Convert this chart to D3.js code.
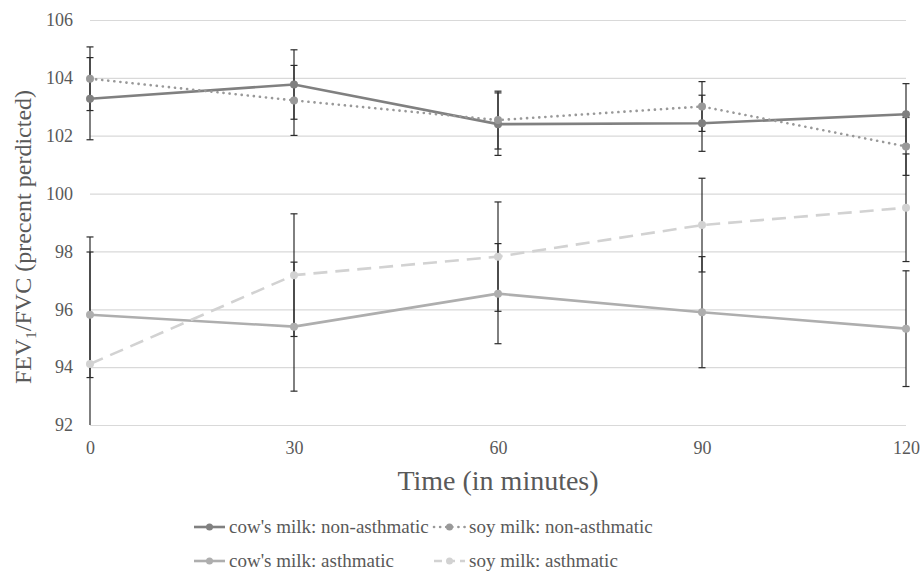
<!DOCTYPE html>
<html>
<head>
<meta charset="utf-8">
<script src="https://cdn.jsdelivr.net/npm/d3@7"></script>
<style>
  body { margin: 0; background: #fff; }
  text { font-family: "Liberation Serif", "Times New Roman", serif; fill: #595959; }
</style>
</head>
<body>
<div class="chart"></div>
<script>
// data
var times = [0, 30, 60, 90, 120];
var cow_non = [103.28, 103.77, 102.40, 102.43, 102.74];
var cow_non_err = [1.42, 1.20, 1.08, 0.97, 1.06];
var soy_non = [103.97, 103.22, 102.54, 103.01, 101.63];
var soy_non_err = [1.10, 1.21, 1.00, 0.86, 1.00];
var cow_ast = [95.81, 95.40, 96.54, 95.90, 95.33];
var cow_ast_err = [2.17, 2.23, 1.73, 1.92, 2.00];
var soy_ast = [94.11, 97.18, 97.82, 98.91, 99.51];
var soy_ast_err = [4.39, 2.12, 1.89, 1.62, 1.86];
var y_ticks = [92, 94, 96, 98, 100, 102, 104, 106];
var series_names = ["cow's milk: non-asthmatic", "soy milk: non-asthmatic",
                    "cow's milk: asthmatic", "soy milk: asthmatic"];

var chart_width = 922, chart_height = 572,
    plot_left = 90, plot_right = 906, plot_top = 20, plot_bottom = 425;

var series = [
  { name: series_names[0], values: cow_non, err: cow_non_err, color: "#808080", dash: null },
  { name: series_names[1], values: soy_non, err: soy_non_err, color: "#999999", dash: "0.1,6" },
  { name: series_names[2], values: cow_ast, err: cow_ast_err, color: "#aeaeae", dash: null },
  { name: series_names[3], values: soy_ast, err: soy_ast_err, color: "#d2d2d2", dash: "14,8" }
];

var x = d3.scalePoint().domain(times).range([plot_left, plot_right]);
var y = d3.scaleLinear().domain([92, 106]).range([plot_bottom, plot_top]);

var svg = d3.select(".chart").append("svg")
    .attr("width", chart_width)
    .attr("height", chart_height);

svg.append("clipPath").attr("id", "plot")
  .append("rect")
    .attr("x", plot_left - 10).attr("y", plot_top)
    .attr("width", plot_right - plot_left + 20).attr("height", plot_bottom - plot_top);

// gridlines + y labels
var yAxis = d3.axisLeft(y).tickValues(y_ticks).tickSize(-(plot_right - plot_left)).tickPadding(17);
var gy = svg.append("g").attr("transform", "translate(" + plot_left + ",0)").call(yAxis);
gy.select(".domain").remove();
gy.selectAll(".tick line").attr("stroke", "#d9d9d9").attr("stroke-width", 1.2);
gy.selectAll(".tick text").style("font-size", "18px").attr("fill", "#595959");

// x labels
var xAxis = d3.axisBottom(x).tickSize(0).tickPadding(16);
var gx = svg.append("g").attr("transform", "translate(0," + plot_bottom + ")").call(xAxis);
gx.select(".domain").remove();
gx.selectAll(".tick text").style("font-size", "18px").attr("fill", "#595959");

// error bars
var errs = svg.append("g").attr("clip-path", "url(#plot)");
series.forEach(function (s) {
  times.forEach(function (t, i) {
    var cx = x(t), hi = y(s.values[i] + s.err[i]), lo = y(s.values[i] - s.err[i]);
    errs.append("line").attr("x1", cx).attr("x2", cx).attr("y1", hi).attr("y2", lo)
      .attr("stroke", "#2b2b2b").attr("stroke-width", 1.2);
    [hi, lo].forEach(function (yy) {
      errs.append("line").attr("x1", cx - 3.5).attr("x2", cx + 3.5).attr("y1", yy).attr("y2", yy)
        .attr("stroke", "#2b2b2b").attr("stroke-width", 1.2);
    });
  });
});

// lines
var line = d3.line().x(function (d, i) { return x(times[i]); }).y(function (d) { return y(d); });
series.forEach(function (s) {
  svg.append("path")
    .attr("d", line(s.values))
    .attr("fill", "none")
    .attr("stroke", s.color)
    .attr("stroke-width", 2.6)
    .attr("stroke-linecap", s.dash === "0.1,6" ? "round" : "butt")
    .attr("stroke-dasharray", s.dash);
});
series.forEach(function (s) {
  svg.selectAll(null).data(s.values).enter().append("circle")
    .attr("cx", function (d, i) { return x(times[i]); })
    .attr("cy", function (d) { return y(d); })
    .attr("r", 4)
    .attr("fill", s.color);
});

// axis titles
svg.append("text")
  .attr("x", (plot_left + plot_right) / 2).attr("y", 490)
  .attr("text-anchor", "middle")
  .style("font-size", "28px")
  .text("Time (in minutes)");

var yt = svg.append("text")
  .attr("transform", "translate(31,237) rotate(-90)")
  .attr("text-anchor", "middle")
  .style("font-size", "24px");
yt.append("tspan").text("FEV");
yt.append("tspan").attr("dy", 5).style("font-size", "15px").text("1");
yt.append("tspan").attr("dy", -5).text("/FVC (precent perdicted)");

// legend
var legend_pos = [[194, 527], [434, 527], [194, 561], [434, 561]];
series.forEach(function (s, i) {
  var g = svg.append("g").attr("transform", "translate(" + legend_pos[i][0] + "," + legend_pos[i][1] + ")");
  g.append("line").attr("x1", 0).attr("x2", 31).attr("y1", 0).attr("y2", 0)
    .attr("stroke", s.color).attr("stroke-width", 2.6)
    .attr("stroke-linecap", s.dash === "0.1,6" ? "round" : "butt")
    .attr("stroke-dasharray", s.dash === "14,8" ? "8,5" : s.dash);
  g.append("circle").attr("cx", 15.5).attr("cy", 0).attr("r", 3.5).attr("fill", s.color);
  g.append("text").attr("x", 35).attr("y", 6).style("font-size", "19px").text(s.name);
});
</script>
</body>
</html>
